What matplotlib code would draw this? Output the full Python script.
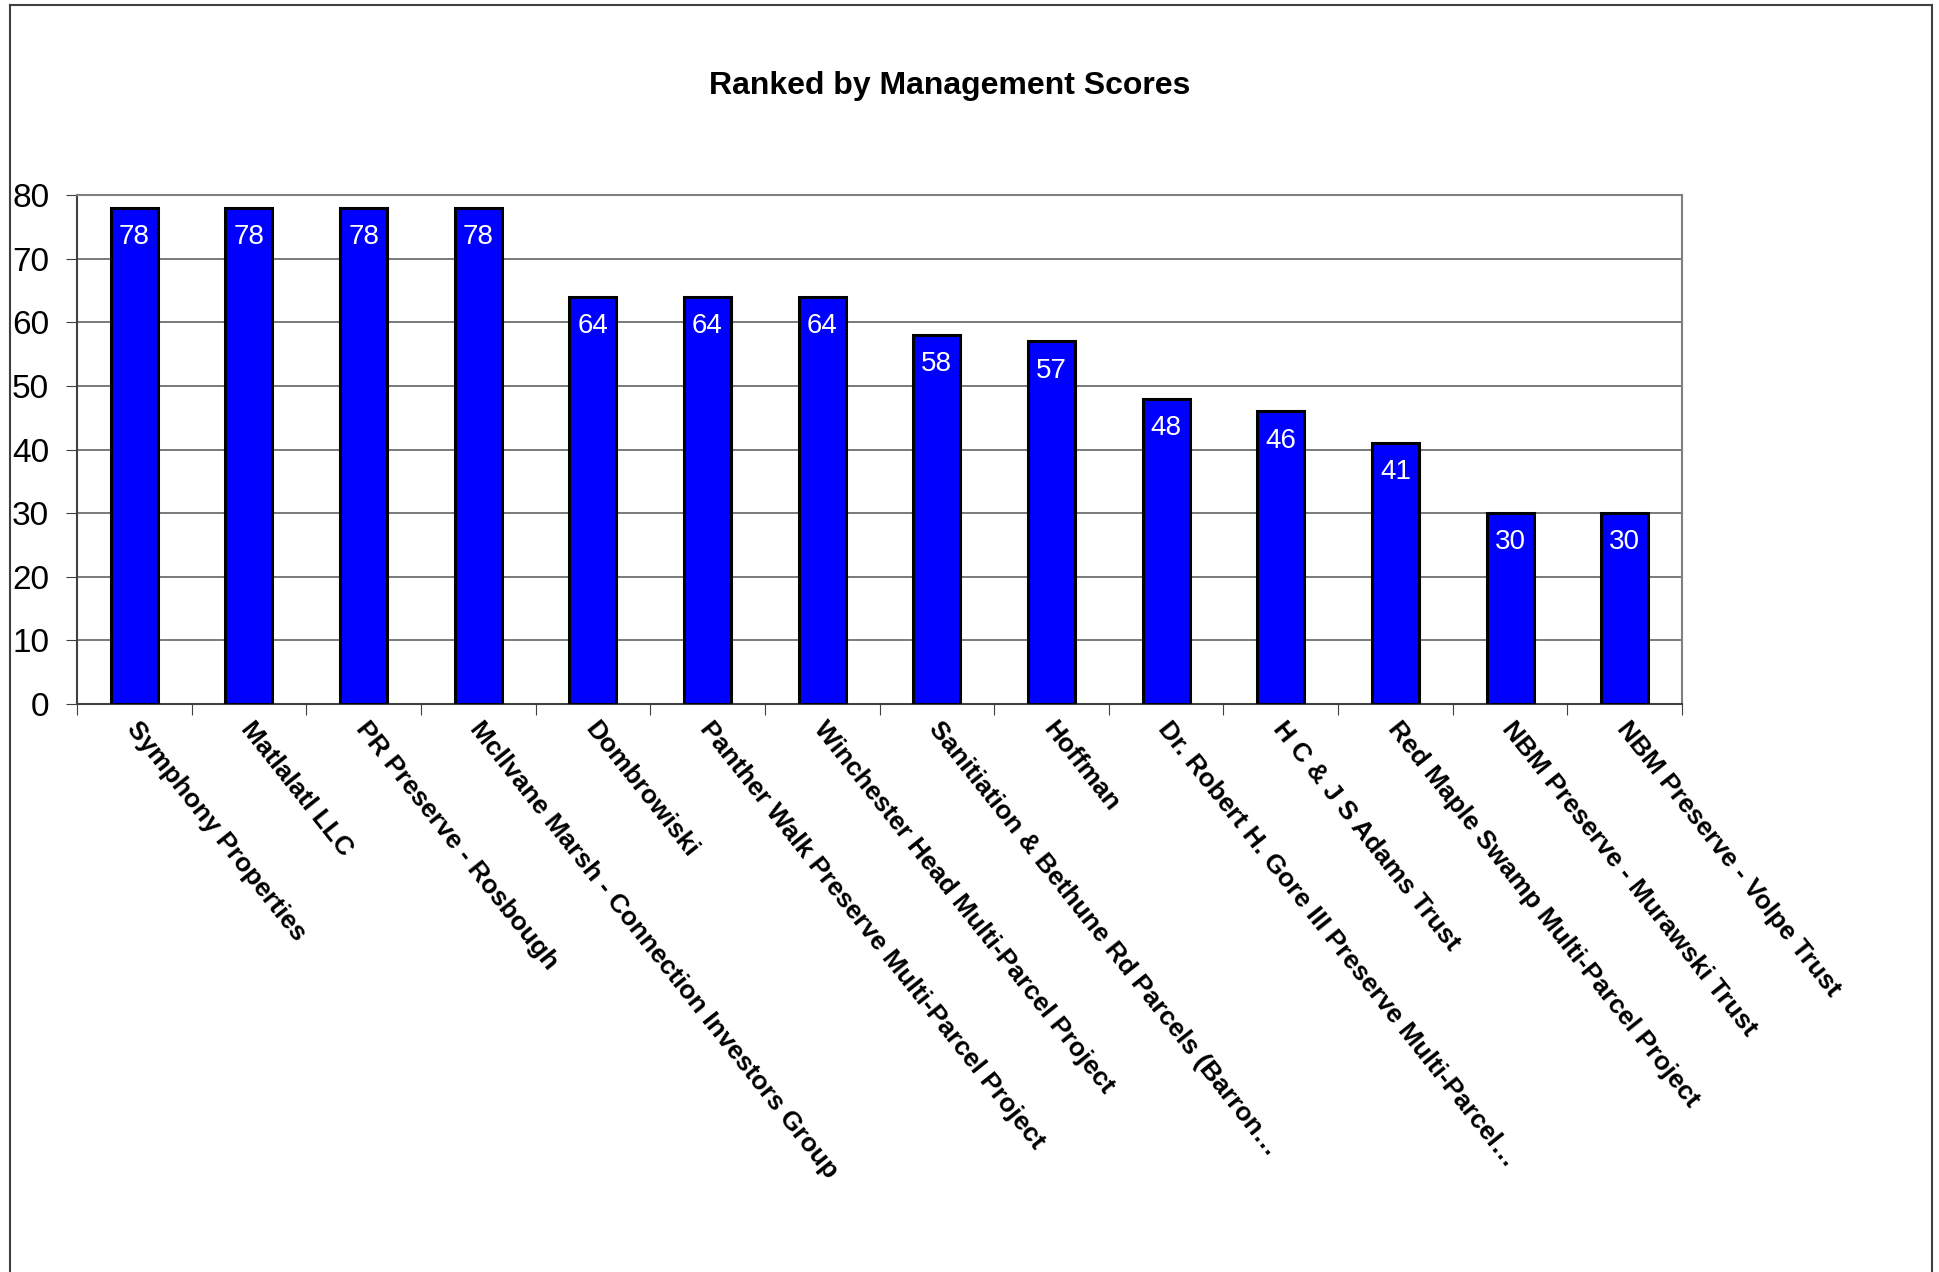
import numpy as np
import matplotlib
matplotlib.use('Agg')
import matplotlib.pyplot as plt
from matplotlib.lines import Line2D

plt.rcParams['font.family'] = ['Liberation Sans', 'DejaVu Sans']

projects = ['Symphony Properties', 'Matlalatl LLC', 'PR Preserve - Rosbough',
            'Mcllvane Marsh - Connection Investors Group', 'Dombrowiski',
            'Panther Walk Preserve Multi-Parcel Project',
            'Winchester Head Multi-Parcel Project',
            'Sanitiation & Bethune Rd Parcels (Barron\u2026', 'Hoffman',
            'Dr. Robert H. Gore III Preserve Multi-Parcel\u2026',
            'H C & J S Adams Trust', 'Red Maple Swamp Multi-Parcel Project',
            'NBM Preserve - Murawski Trust', 'NBM Preserve - Volpe Trust']
scores = [78, 78, 78, 78, 64, 64, 64, 58, 57, 48, 46, 41, 30, 30]
yticks = [0, 10, 20, 30, 40, 50, 60, 70, 80]

fig = plt.figure(figsize=(19.39, 12.72), dpi=100)
ax = fig.add_axes([0.0397, 0.4465, 0.8278, 0.4002])

x = np.arange(len(projects))
bars = ax.bar(x, scores, width=0.41, color='#0000FF', edgecolor='black',
              linewidth=2.2, zorder=3)

for xi, v in zip(x, scores):
    ax.annotate(str(v), (xi, v), xytext=(0, -21), textcoords='offset points',
                ha='center', va='center', color='white', fontsize=20)

ax.set_xlim(-0.5, len(projects) - 0.5)
ax.set_ylim(0, 80)
ax.set_yticks(yticks)
ax.set_yticklabels([str(t) for t in yticks], fontsize=24)
ax.yaxis.grid(True, color='#707070', linewidth=1.3, zorder=0)

# category ticks between bars (Excel style), labels placed by hand
ax.set_xticks(np.arange(-0.5, len(projects)))
ax.set_xticklabels([])
ax.tick_params(axis='x', length=8, direction='out', color='#404040')
ax.tick_params(axis='y', length=8, direction='out', color='#404040', pad=12)

for xi, name in zip(x, projects):
    ax.annotate(name, (xi, 0), xycoords=('data', 'axes fraction'),
                xytext=(6, -13), textcoords='offset pixels',
                rotation=-51.5, rotation_mode='anchor', ha='left', va='top',
                fontsize=19, fontweight='bold')

for s in ['top', 'right']:
    ax.spines[s].set_color('#808080')
    ax.spines[s].set_linewidth(1.5)
for s in ['left', 'bottom']:
    ax.spines[s].set_color('#404040')
    ax.spines[s].set_linewidth(1.5)

fig.text(0.490, 0.932, 'Ranked by Management Scores', ha='center', va='center',
         fontsize=23, fontweight='bold')

# outer chart border
bx0, bx1, by1 = 10 / 1939, 1932 / 1939, 1 - 5 / 1272
for xs, ys in [([bx0, bx0], [0, by1]), ([bx0, bx1], [by1, by1]), ([bx1, bx1], [0, by1])]:
    fig.add_artist(Line2D(xs, ys, color='#404040', linewidth=1.5))

fig.savefig('out.png', dpi=100)
